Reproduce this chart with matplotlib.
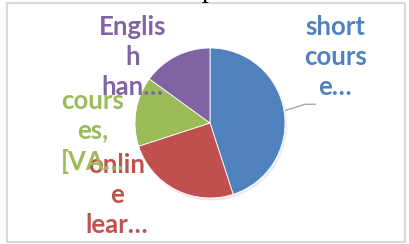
import matplotlib.pyplot as plt
from matplotlib.patches import Rectangle

# data
categories = ["short course", "online learning", "courses", "English handbook"]
values = [45, 25, 15, 15]
labels = ["short\ncours\ne…", "onlin\ne\nlear…", "cours\nes,\n[VA…", "Englis\nh\nhan…"]
colors = ["#4F81BD", "#C0504D", "#9BBB59", "#8064A2"]

W, H = 409, 244
fig = plt.figure(figsize=(W / 100, H / 100), dpi=100)

# chart frame
fig.patches.append(Rectangle((7 / W, 2 / H), 398 / W, 239 / H, transform=fig.transFigure,
                             facecolor="none", edgecolor="#d9d9d9", lw=1.5, zorder=0))

# fragment of text from above the chart
fig.text(209 / W, 1 + 3 / H, "p", family="Liberation Serif", fontsize=20,
         ha="center", va="baseline", color="black")

# pie centre (210,123) px, radius 75 px
ax = fig.add_axes([135 / W, (H - 198) / H, 150 / W, 150 / H])
wedges, _ = ax.pie(values, colors=colors, startangle=90, counterclock=False,
                   radius=1, wedgeprops=dict(linewidth=0.6, edgecolor="white"),
                   shadow=dict(shade=0.15, ox=0.015, oy=-0.02, alpha=0.1))
ax.set_xlim(-1, 1)
ax.set_ylim(-1, 1)
ax.axis("off")

# label positions (data units, 1 = radius)
label_pos = [(1.67, 0.88), (-1.24, -0.96), (-1.56, -0.11), (-1.03, 0.88)]
for txt, (x, y), c in zip(labels, label_pos, colors):
    ax.text(x, y, txt, ha="center", va="center", color=c, fontsize=18.5,
            fontweight="bold", family="Lato", linespacing=1.3, clip_on=False)

# leader line for the first label
ax.plot([1.01, 1.27, 1.40], [0.17, 0.25, 0.25], color="#a6a6a6", lw=1, clip_on=False)

fig.savefig("out.png", dpi=100)
